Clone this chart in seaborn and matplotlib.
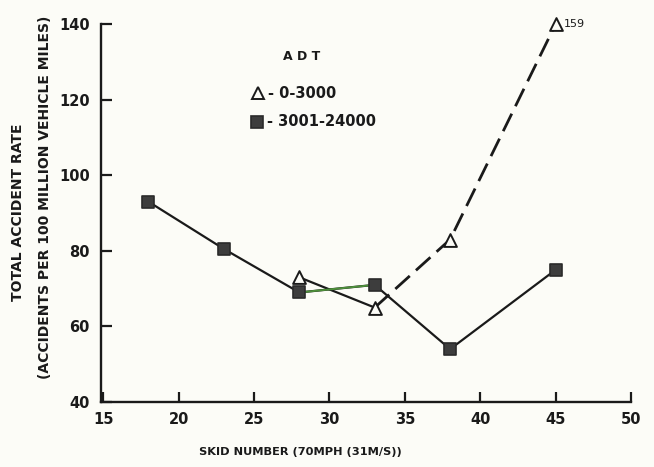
import matplotlib
matplotlib.use("Agg")
import matplotlib.pyplot as plt
import seaborn as sns
import pandas as pd

# Skid number at 70 mph and total accident rate per ADT group
skid_low_adt = [28, 33, 38, 45]
rate_low_adt = [73, 65, 83, 159]
skid_high_adt = [18, 23, 28, 33, 38, 45]
rate_high_adt = [93, 80.5, 69, 71, 54, 75]

x_ticks = [15, 20, 25, 30, 35, 40, 45, 50]
y_ticks = [40, 60, 80, 100, 120, 140]
y_max = 140

paper = "#fcfcf7"
ink = "#1a1a1a"

sns.set_theme(style="white")
plt.rcParams["font.family"] = ["DejaVu Sans"]
plt.rcParams["font.weight"] = "bold"

fig = plt.figure(figsize=(6.54, 4.67), dpi=100, facecolor=paper)
ax = fig.add_axes([0.1544, 0.139, 0.8106, 0.8096])
ax.set_facecolor(paper)

# values above the top of the scale are pinned to the axis edge and labelled
plot_low = [min(v, y_max) for v in rate_low_adt]
low = pd.DataFrame({"skid": skid_low_adt, "rate": plot_low})
high = pd.DataFrame({"skid": skid_high_adt, "rate": rate_high_adt})

# 3001-24000 ADT: solid line with filled squares
sns.lineplot(data=high, x="skid", y="rate", ax=ax, color=ink, lw=1.6,
             sort=False, zorder=2)
sns.lineplot(data=high.iloc[2:4], x="skid", y="rate", ax=ax,
             color="#4d8f3a", lw=1.4, zorder=2.1)

# 0-3000 ADT: solid first segment, long dashes after
sns.lineplot(data=low.iloc[0:2], x="skid", y="rate", ax=ax, color=ink,
             lw=1.6, zorder=2)
sns.lineplot(data=low.iloc[1:], x="skid", y="rate", ax=ax, color=ink,
             lw=2.0, zorder=2, dashes=False, linestyle=(0, (7, 3)))

sns.scatterplot(data=high, x="skid", y="rate", ax=ax, marker="s", s=80,
                color="#3d3d3d", edgecolor="#2a2a2a", linewidth=1.2, zorder=3)
sns.scatterplot(data=low, x="skid", y="rate", ax=ax, marker="^", s=85,
                facecolor=paper, edgecolor=ink, linewidth=1.4, zorder=3,
                clip_on=False)

ax.annotate(f"{rate_low_adt[-1]}", xy=(skid_low_adt[-1], plot_low[-1]),
            xytext=(6, 0), textcoords="offset points", ha="left",
            va="center", fontsize=8, fontweight="normal", color=ink)

ax.set_xlim(14.85, 50)
ax.set_ylim(40, y_max)
ax.set_xticks(x_ticks)
ax.set_yticks(y_ticks)
ax.tick_params(axis="both", direction="in", colors=ink, width=1.6,
               labelsize=10.5, labelcolor=ink, left=True, bottom=True)
ax.tick_params(axis="y", length=8, pad=8)
ax.tick_params(axis="x", length=7, pad=7)
for lab in ax.get_xticklabels() + ax.get_yticklabels():
    lab.set_fontweight("bold")

sns.despine(ax=ax)
for side in ("left", "bottom"):
    ax.spines[side].set_color(ink)
    ax.spines[side].set_linewidth(1.7)

ax.set_xlabel("")
ax.set_ylabel("")
fig.text(0.459, 0.032, "SKID NUMBER (70MPH (31M/S))", ha="center",
         va="center", fontsize=8.2, fontweight="bold", color=ink)
fig.text(0.028, 0.546, "TOTAL ACCIDENT RATE", rotation=90, ha="center",
         va="center", fontsize=10, fontweight="bold", color=ink)
fig.text(0.069, 0.578, "(ACCIDENTS PER 100 MILLION VEHICLE MILES)",
         rotation=90, ha="center", va="center", fontsize=10,
         fontweight="bold", color=ink)

# key
ax.text(0.379, 0.913, "A D T", transform=ax.transAxes, ha="center",
        va="center", fontsize=9, fontweight="bold", color=ink)
ax.plot([0.296], [0.817], marker="^", ms=9, mfc=paper, mec=ink, mew=1.4,
        transform=ax.transAxes, clip_on=False)
ax.text(0.315, 0.815, "- 0-3000", transform=ax.transAxes, ha="left",
        va="center", fontsize=10.5, fontweight="bold", color=ink)
ax.plot([0.294], [0.741], marker="s", ms=8.5, mfc="#3d3d3d", mec="#2a2a2a",
        mew=1.2, transform=ax.transAxes, clip_on=False)
ax.text(0.313, 0.741, "- 3001-24000", transform=ax.transAxes, ha="left",
        va="center", fontsize=10.5, fontweight="bold", color=ink)

fig.savefig("out.png", dpi=100, facecolor=paper)
